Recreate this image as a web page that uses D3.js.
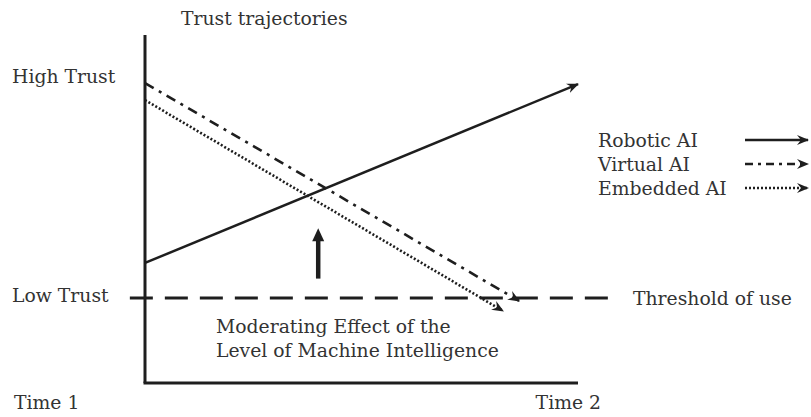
<!DOCTYPE html>
<html><head><meta charset="utf-8">
<script src="https://cdn.jsdelivr.net/npm/d3@7/dist/d3.min.js"></script>
<style>body{margin:0;background:#fff}</style>
</head><body>
<svg id="c" width="811" height="417"></svg>
<script>
// Data (time 0..100 from Time 1 to Time 2; trust 0..100)
const seriesNames = ["Robotic AI", "Virtual AI", "Embedded AI"];
const seriesStart = [[0, 34.5], [0, 86.2], [0, 81.3]];
const seriesEnd = [[100, 85.9], [86.4, 23.6], [82.7, 20.7]];
const threshold = 24.4;
const yTickLabels = [{v: 88, t: "High Trust"}, {v: 25, t: "Low Trust"}];
const xTickLabels = [{v: 0, t: "Time 1"}, {v: 100, t: "Time 2"}];
const moderatorArrow = [[40, 30], [40, 44.5]];

const svg = d3.select("#c");
const x = d3.scaleLinear().domain([0, 100]).range([145, 578]);
const y = d3.scaleLinear().domain([0, 100]).range([383, 35]);
const ink = "#1e1e1e", txt = "#333";
const font = "DejaVu Serif";
const fs = 18.8;

const defs = svg.append("defs");
defs.append("marker").attr("id", "arr").attr("viewBox", "0 0 12 10")
  .attr("refX", 11).attr("refY", 5).attr("markerWidth", 12).attr("markerHeight", 10)
  .attr("markerUnits", "userSpaceOnUse").attr("orient", "auto")
  .append("path").attr("d", "M0,0 L12,5 L0,10 L4,5 Z").attr("fill", ink);

const dashes = [null, "10,6,3,6", "2,2"];
const legDashes = [null, "8,5,3,5", "2,2"];
const widths = [2.5, 2.6, 2.6];

// axes
svg.append("line").attr("x1", x(0)).attr("x2", x(0)).attr("y1", y(100)).attr("y2", y(0))
  .attr("stroke", ink).attr("stroke-width", 3);
svg.append("line").attr("x1", x(0) - 1.5).attr("x2", x(100)).attr("y1", y(0)).attr("y2", y(0))
  .attr("stroke", ink).attr("stroke-width", 3);

// threshold
svg.append("line").attr("x1", x(-3.5)).attr("x2", x(108.5)).attr("y1", y(threshold)).attr("y2", y(threshold))
  .attr("stroke", ink).attr("stroke-width", 3).attr("stroke-dasharray", "23,12");

// series
const line = d3.line().x(d => x(d[0])).y(d => y(d[1]));
seriesNames.forEach((n, i) => {
  svg.append("path").attr("d", line([seriesStart[i], seriesEnd[i]]))
    .attr("fill", "none").attr("stroke", ink).attr("stroke-width", widths[i])
    .attr("stroke-dasharray", dashes[i]).attr("marker-end", "url(#arr)");
});

// moderator arrow
const ax = x(moderatorArrow[0][0]), ay0 = y(moderatorArrow[0][1]), ay1 = y(moderatorArrow[1][1]);
svg.append("line").attr("x1", ax).attr("x2", ax).attr("y1", ay0).attr("y2", ay1 + 10)
  .attr("stroke", ink).attr("stroke-width", 4.5);
svg.append("path").attr("d", `M${ax - 6},${ay1 + 13} L${ax},${ay1} L${ax + 6},${ay1 + 13} Z`).attr("fill", ink);

// texts
function t(s, xx, yy, anchor) {
  return svg.append("text").attr("x", xx).attr("y", yy).attr("fill", txt)
    .attr("font-family", font).attr("font-size", fs).attr("text-anchor", anchor || "start").text(s);
}
t("Trust trajectories", 181, 25);
yTickLabels.forEach(d => t(d.t, 12, y(d.v) + 6));
t(xTickLabels[0].t, 14, 409);
t(xTickLabels[1].t, 601, 409, "end");
t("Threshold of use", 633, 305);
t("Moderating Effect of the", 216, 333);
t("Level of Machine Intelligence", 216, 357);

// legend
const legY = [140, 164, 188];
seriesNames.forEach((n, i) => {
  t(n, 598, legY[i] + 7);
  svg.append("line").attr("x1", 745).attr("x2", 808).attr("y1", legY[i]).attr("y2", legY[i])
    .attr("stroke", ink).attr("stroke-width", widths[i]).attr("stroke-dasharray", legDashes[i])
    .attr("marker-end", "url(#arr)");
});
</script>
</body></html>
